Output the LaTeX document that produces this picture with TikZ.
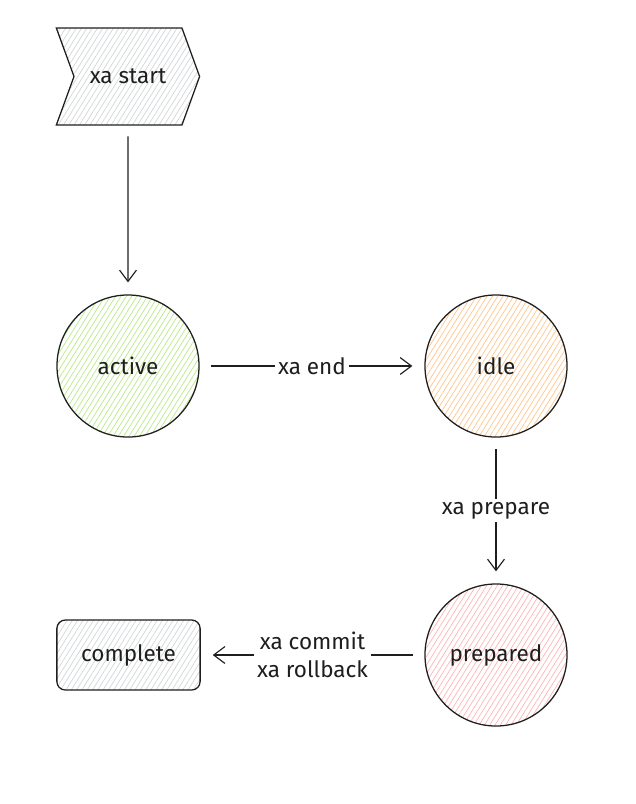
\documentclass[tikz,border=0pt]{standalone}
\usepackage{fontspec}
\setmainfont{Fira Sans}
\usepackage{xcolor}
\usetikzlibrary{arrows.meta, positioning, calc, shapes.symbols, patterns.meta}

\definecolor{ink}{HTML}{1E1E1E}
\definecolor{limefill}{HTML}{B8E986}
\definecolor{orangefill}{HTML}{FFC58A}
\definecolor{pinkfill}{HTML}{FFB3B3}
\definecolor{grayfill}{HTML}{D2D5D8}

\begin{document}
\begin{tikzpicture}[x=0.025cm, y=-0.025cm,
    hatch/.style={pattern={Lines[angle=58,distance=3.2pt,line width=0.5pt]}, pattern color=#1},
    state/.style={circle, draw=ink, line width=0.9pt, minimum size=3.55cm, hatch=#1,
        font=\fontsize{16}{20}\selectfont, text=ink},
    flow/.style={-{Straight Barb[length=8pt,width=12pt]}, draw=ink, line width=0.8pt,
        shorten <=0.28cm, shorten >=0.3cm},
    tag/.style={fill=white, inner sep=2pt, font=\fontsize{16}{20}\selectfont, text=ink, align=center}]
    \useasboundingbox (0,0) rectangle (636,804);
    \node[shape=signal, signal from=west, signal to=east, signal pointer angle=140,
        draw=ink, line width=0.9pt, hatch=grayfill, minimum width=3.58cm, minimum height=2.42cm,
        inner sep=0pt, font=\fontsize{16}{20}\selectfont, text=ink] (start) at (128,76.5) {xa start};
    \node[state=limefill] (active) at (128,366) {active};
    \node[state=orangefill] (idle) at (496,366) {idle};
    \node[state=pinkfill] (prepared) at (496,655) {prepared};
    \node[rectangle, rounded corners=6pt, draw=ink, line width=0.9pt, hatch=grayfill,
        minimum width=3.58cm, minimum height=1.75cm, font=\fontsize{16}{20}\selectfont,
        text=ink] (complete) at (128.5,655) {complete};
    \draw[flow] (start) -- (active);
    \draw[flow] (active) -- node[tag] {xa end} (idle);
    \draw[flow] (idle) -- node[tag] {xa prepare} (prepared);
    \draw[flow] (prepared) -- node[tag] {xa commit\\xa rollback} (complete);
\end{tikzpicture}
\end{document}
